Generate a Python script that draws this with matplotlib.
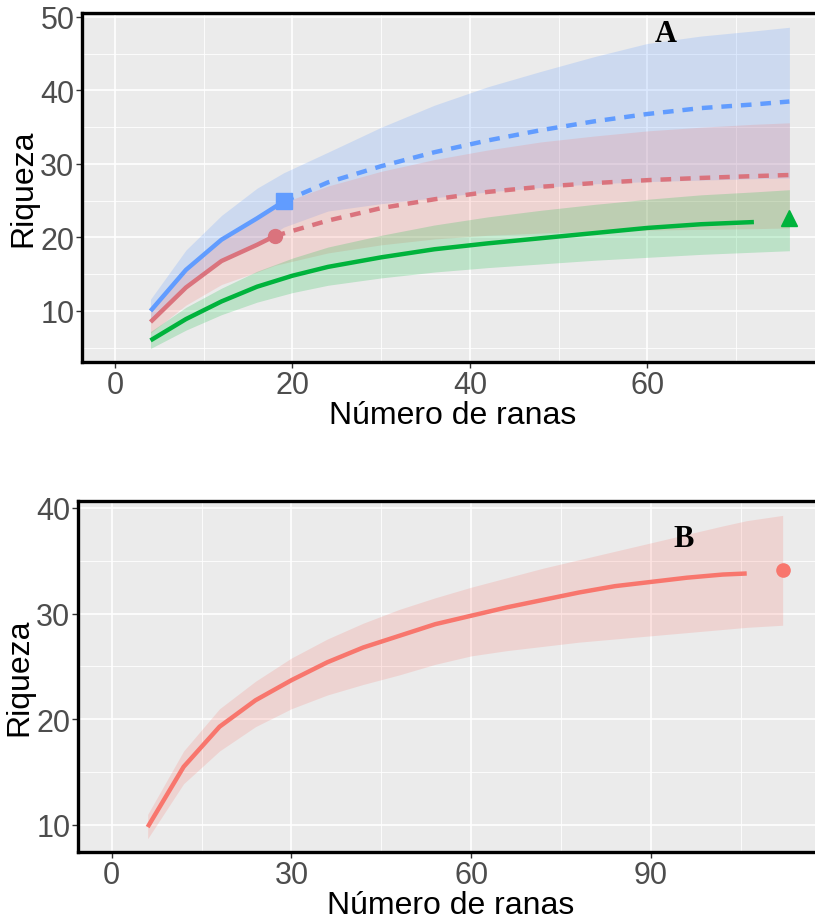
import numpy as np
import matplotlib.pyplot as plt

plt.rcParams['font.family'] = ['Liberation Sans', 'DejaVu Sans']

# Panel A - rarefaction / extrapolation curves
blue_x = np.array([4, 8, 12, 16, 19, 24, 30, 36, 42, 48, 54, 60, 66, 72, 76])
blue_y = np.array([10.0, 15.6, 19.7, 22.6, 24.9, 27.5, 29.7, 31.6, 33.2, 34.6, 35.8, 36.8, 37.6, 38.1, 38.5])
blue_lo = np.array([8.4, 13.2, 16.8, 19.0, 21.4, 23.6, 24.6, 25.4, 26.2, 26.8, 27.3, 27.6, 27.8, 28.0, 28.1])
blue_hi = np.array([11.6, 18.3, 23.0, 26.7, 28.8, 31.6, 35.0, 38.0, 40.5, 42.6, 44.6, 46.4, 47.4, 48.1, 48.6])
blue_obs = 19

red_x = np.array([4, 8, 12, 16, 18, 24, 30, 36, 42, 48, 54, 60, 66, 72, 76])
red_y = np.array([8.5, 13.2, 16.8, 19.0, 20.2, 22.3, 24.0, 25.2, 26.2, 26.9, 27.4, 27.8, 28.1, 28.35, 28.5])
red_lo = np.array([7.0, 10.8, 13.6, 15.3, 16.2, 17.9, 19.0, 19.8, 20.3, 20.6, 20.8, 21.0, 21.1, 21.2, 21.3])
red_hi = np.array([10.0, 15.8, 20.0, 23.0, 24.3, 27.0, 29.0, 30.6, 31.9, 33.0, 33.8, 34.5, 35.0, 35.4, 35.6])
red_obs = 18

green_x = np.array([4, 8, 12, 16, 20, 24, 30, 36, 42, 48, 54, 60, 66, 72, 76])
green_y = np.array([6.0, 8.9, 11.3, 13.3, 14.8, 16.0, 17.3, 18.4, 19.2, 19.9, 20.6, 21.3, 21.8, 22.1, 22.6])
green_lo = np.array([4.9, 7.4, 9.5, 11.2, 12.5, 13.5, 14.5, 15.3, 15.9, 16.4, 16.9, 17.3, 17.7, 18.0, 18.2])
green_hi = np.array([7.2, 10.5, 13.1, 15.4, 17.2, 18.7, 20.3, 21.7, 22.8, 23.7, 24.5, 25.2, 25.8, 26.2, 26.5])

# Panel B
b_x = np.array([6, 12, 18, 24, 30, 36, 42, 48, 54, 60, 66, 72, 78, 84, 90, 96, 102, 106, 112])
b_y = np.array([9.8, 15.5, 19.3, 21.8, 23.7, 25.4, 26.8, 27.9, 29.0, 29.8, 30.6, 31.3, 32.0, 32.6, 33.0, 33.4, 33.7, 33.8, 34.1])
b_lo = np.array([8.7, 13.9, 17.0, 19.3, 21.0, 22.3, 23.3, 24.2, 25.2, 26.0, 26.5, 26.9, 27.3, 27.6, 27.9, 28.2, 28.5, 28.7, 28.9])
b_hi = np.array([11.0, 17.0, 21.0, 23.6, 25.8, 27.6, 29.1, 30.4, 31.5, 32.5, 33.4, 34.3, 35.1, 35.9, 36.7, 37.5, 38.3, 38.8, 39.3])

BG = '#EBEBEB'
LW = 3.2


def style_axes(ax, xmaj, xmin, ymaj, ymin, xlim, ylim):
    ax.set_facecolor(BG)
    ax.set_xlim(*xlim)
    ax.set_ylim(*ylim)
    ax.set_xticks(xmaj)
    ax.set_xticks(xmin, minor=True)
    ax.set_yticks(ymaj)
    ax.set_yticks(ymin, minor=True)
    ax.grid(which='major', color='white', linewidth=1.2)
    ax.grid(which='minor', color='white', linewidth=0.6)
    ax.set_axisbelow(True)
    ax.tick_params(which='major', length=4, width=1, color='#333333',
                   labelcolor='#4D4D4D', labelsize=22, pad=1.5)
    ax.tick_params(which='minor', length=0)
    for s in ax.spines.values():
        s.set_linewidth(2.4)
        s.set_color('black')
    ax.set_xlabel('Número de ranas', fontsize=23, labelpad=0)
    ax.set_ylabel('Riqueza', fontsize=23, labelpad=1)


fig = plt.figure(figsize=(8.15, 9.2), dpi=100)

# ---- panel A
ax1 = fig.add_axes([82 / 815, 1 - 363 / 920, 742 / 815, 349 / 920])
style_axes(ax1, [0, 20, 40, 60], [10, 30, 50, 70], [10, 20, 30, 40, 50],
           [5, 15, 25, 35, 45], (-3.72, 79.9), (3.06, 50.54))

ax1.fill_between(blue_x, blue_lo, blue_hi, color='#619CFF', alpha=0.22, lw=0)
ax1.fill_between(red_x, red_lo, red_hi, color='#F8766D', alpha=0.2, lw=0)
ax1.fill_between(green_x, green_lo, green_hi, color='#00BA38', alpha=0.2, lw=0)

blue_c = '#619CFF'
red_c = '#DA737D'
green_c = '#00B33C'
m = blue_x <= blue_obs
ax1.plot(blue_x[m], blue_y[m], color=blue_c, lw=LW, solid_capstyle='butt')
ax1.plot(blue_x[~m | (blue_x == blue_obs)], blue_y[~m | (blue_x == blue_obs)],
         color=blue_c, lw=LW, dashes=(2.4, 2.0))
ax1.plot([blue_obs], [blue_y[m][-1]], marker='s', ms=11, color=blue_c, ls='none')

m = red_x <= red_obs
ax1.plot(red_x[m], red_y[m], color=red_c, lw=LW, solid_capstyle='butt')
ax1.plot(red_x[~m | (red_x == red_obs)], red_y[~m | (red_x == red_obs)],
         color=red_c, lw=LW, dashes=(2.4, 2.0))
ax1.plot([red_obs], [red_y[m][-1]], marker='o', ms=10, color=red_c, ls='none')

ax1.plot(green_x[:-1], green_y[:-1], color=green_c, lw=LW, solid_capstyle='butt')
ax1.plot(green_x[-1:], green_y[-1:], marker='^', ms=12, color=green_c, ls='none')

ax1.text(62.1, 47.7, 'A', fontsize=22, fontweight='bold', ha='center', va='center',
         family=['Liberation Serif', 'DejaVu Serif'])

# ---- panel B
ax2 = fig.add_axes([78 / 815, 1 - 853 / 920, 746 / 815, 351 / 920])
style_axes(ax2, [0, 30, 60, 90], [15, 45, 75, 105], [10, 20, 30, 40],
           [15, 25, 35], (-5.63, 118.9), (7.44, 40.66))

ax2.fill_between(b_x, b_lo, b_hi, color='#F8766D', alpha=0.2, lw=0)
ax2.plot(b_x[:-1], b_y[:-1], color='#F8766D', lw=LW, solid_capstyle='butt')
ax2.plot(b_x[-1:], b_y[-1:], marker='o', ms=9.5, color='#F8766D', ls='none')

ax2.text(95.5, 37.1, 'B', fontsize=22, fontweight='bold', ha='center', va='center',
         family=['Liberation Serif', 'DejaVu Serif'])

fig.savefig('out.png', dpi=100)
